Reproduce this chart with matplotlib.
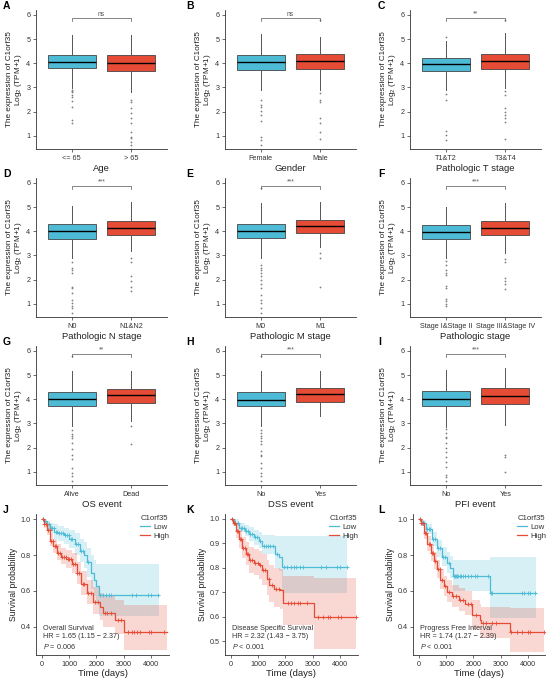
import numpy as np
import matplotlib
matplotlib.use("Agg")
import matplotlib.pyplot as plt

plt.rcParams['font.family'] = ['Liberation Sans', 'DejaVu Sans']
plt.rcParams['mathtext.fontset'] = 'custom'
plt.rcParams['mathtext.rm'] = 'Liberation Sans'
plt.rcParams['mathtext.it'] = 'Liberation Sans:italic'

BLUE = "#4DBBD5"
RED = "#E64B35"
DARK = "#333333"

# ---------------- Box panels data ----------------
panel_letters = ["A", "B", "C", "D", "E", "F", "G", "H", "I"]
xlabels = ["Age", "Gender", "Pathologic T stage", "Pathologic N stage", "Pathologic M stage",
           "Pathologic stage", "OS event", "DSS event", "PFI event"]
group_names = [["<= 65", "> 65"], ["Female", "Male"], ["T1&T2", "T3&T4"], ["N0", "N1&N2"],
               ["M0", "M1"], ["Stage I&Stage II", "Stage III&Stage IV"], ["Alive", "Dead"],
               ["No", "Yes"], ["No", "Yes"]]
signif = ["ns", "ns", "**", "***", "***", "***", "**", "***", "***"]

# (whislo, q1, med, q3, whishi)
box_low = [
    (2.96, 3.79, 4.05, 4.34, 5.17),
    (2.90, 3.72, 4.04, 4.34, 5.22),
    (2.90, 3.66, 3.96, 4.21, 4.90),
    (2.91, 3.68, 4.01, 4.30, 5.04),
    (2.88, 3.71, 4.02, 4.30, 5.15),
    (2.89, 3.67, 3.97, 4.25, 5.00),
    (2.88, 3.71, 4.01, 4.30, 5.15),
    (2.88, 3.71, 3.98, 4.30, 5.15),
    (2.85, 3.72, 4.02, 4.32, 5.20),
]
box_high = [
    (2.82, 3.68, 4.00, 4.34, 5.17),
    (2.90, 3.75, 4.07, 4.38, 5.10),
    (2.97, 3.77, 4.07, 4.39, 5.24),
    (3.16, 3.84, 4.15, 4.43, 5.22),
    (3.36, 3.94, 4.21, 4.46, 5.22),
    (3.10, 3.84, 4.14, 4.42, 5.18),
    (3.09, 3.84, 4.19, 4.42, 5.18),
    (3.29, 3.88, 4.21, 4.46, 5.18),
    (2.95, 3.82, 4.15, 4.45, 5.30),
]
fliers_low = [
    [2.90, 2.85, 2.80, 2.70, 2.60, 2.45, 2.20, 1.65, 1.52],
    [2.48, 2.27, 2.17, 2.02, 1.86, 1.62, 0.96, 0.82, 0.60],
    [5.08, 2.72, 2.49, 1.18, 1.04, 0.83],
    [2.74, 2.47, 2.40, 2.26, 1.71, 1.65, 1.44, 1.16, 1.03, 0.89, 0.82, 0.62],
    [5.77, 2.60, 2.47, 2.40, 2.26, 2.13, 1.99, 1.81, 1.65, 1.37, 1.16, 1.03, 0.82, 0.62],
    [2.78, 2.60, 2.40, 2.27, 2.18, 1.73, 1.66, 1.18, 1.10, 0.97, 0.90],
    [5.77, 2.74, 2.54, 2.47, 2.40, 2.20, 1.92, 1.71, 1.51, 1.16, 0.96, 0.82, 0.62],
    [5.77, 2.74, 2.60, 2.47, 2.40, 2.26, 2.13, 1.85, 1.71, 1.65, 1.37, 1.16, 0.96, 0.82, 0.62],
    [2.75, 2.60, 2.45, 2.40, 2.20, 2.00, 1.80, 1.60, 1.40, 1.20, 0.85, 0.80, 0.60],
]
fliers_high = [
    [2.48, 2.40, 2.13, 1.93, 1.72, 1.51, 1.17, 0.96, 0.90, 0.75, 0.60, 0.47],
    [5.77, 2.78, 2.48, 2.40, 1.72, 1.54, 1.17, 0.85],
    [5.79, 2.83, 2.70, 2.14, 2.00, 1.87, 1.73, 1.55, 0.86],
    [2.88, 2.74, 2.13, 1.92, 1.71, 1.54],
    [3.09, 2.88, 1.71],
    [2.86, 2.74, 2.07, 1.93, 1.80, 1.59],
    [2.88, 2.13],
    [],
    [1.70, 1.62, 1.00],
]

# ---------------- KM data ----------------
km_letters = ["J", "K", "L"]
km_titles = ["Overall Survival", "Disease Specific Survival", "Progress Free Interval"]
km_hr = ["HR = 1.65 (1.15 \u2212 2.37)", "HR = 2.32 (1.43 \u2212 3.75)", "HR = 1.74 (1.27 \u2212 2.39)"]
km_p = ["$\\it{P}$ = 0.006", "$\\it{P}$ < 0.001", "$\\it{P}$ < 0.001"]
km_ylim = [(0.244, 1.028), (0.443, 1.02), (0.244, 1.028)]
km_yticks = [[0.4, 0.6, 0.8, 1.0], [0.5, 0.6, 0.7, 0.8, 0.9, 1.0], [0.4, 0.6, 0.8, 1.0]]

# J
j_low_t = [0, 60, 180, 300, 450, 600, 800, 1000, 1200, 1400, 1550, 1650, 1800, 1900, 2000, 2100, 4300]
j_low_s = [1.0, 0.99, 0.97, 0.95, 0.93, 0.92, 0.91, 0.89, 0.86, 0.82, 0.80, 0.76, 0.70, 0.66, 0.63, 0.58, 0.58]
j_low_lo = [1.0, 0.97, 0.94, 0.92, 0.89, 0.88, 0.86, 0.84, 0.80, 0.76, 0.73, 0.68, 0.61, 0.57, 0.53, 0.46, 0.46]
j_low_hi = [1.0, 1.0, 0.99, 0.98, 0.97, 0.96, 0.95, 0.94, 0.92, 0.89, 0.87, 0.84, 0.80, 0.77, 0.75, 0.75, 0.75]
j_high_t = [0, 60, 180, 300, 420, 545, 700, 900, 1090, 1270, 1450, 1640, 1880, 2120, 2240, 2670, 3030, 4600]
j_high_s = [1.0, 0.97, 0.94, 0.88, 0.85, 0.81, 0.79, 0.78, 0.75, 0.70, 0.64, 0.59, 0.54, 0.51, 0.48, 0.44, 0.37, 0.37]
j_high_lo = [1.0, 0.95, 0.91, 0.85, 0.81, 0.77, 0.75, 0.73, 0.70, 0.64, 0.58, 0.53, 0.47, 0.44, 0.40, 0.36, 0.27, 0.27]
j_high_hi = [1.0, 0.99, 0.97, 0.92, 0.89, 0.86, 0.84, 0.83, 0.81, 0.76, 0.71, 0.66, 0.62, 0.59, 0.57, 0.55, 0.52, 0.52]
j_low_cens = [50, 120, 200, 260, 330, 380, 430, 500, 560, 640, 700, 760, 850, 920, 980, 1050, 1120, 1250, 1330, 1450, 1500, 1700, 2150, 2250, 2350, 2450, 2550, 3300, 3450, 3900, 4000, 4250]
j_high_cens = [40, 90, 150, 230, 280, 340, 400, 470, 520, 600, 650, 750, 800, 880, 950, 1000, 1050, 1150, 1200, 1300, 1350, 1500, 1550, 1700, 1800, 1950, 2050, 2300, 2400, 2550, 2800, 2900, 3150, 3300, 3400, 3500, 3600, 3950, 4000, 4500]

# K
k_low_t = [0, 100, 300, 500, 660, 850, 1020, 1140, 1630, 1750, 1870, 4280]
k_low_s = [1.0, 0.985, 0.964, 0.95, 0.937, 0.925, 0.91, 0.89, 0.856, 0.845, 0.805, 0.805]
k_low_lo = [1.0, 0.97, 0.945, 0.93, 0.91, 0.895, 0.88, 0.855, 0.80, 0.785, 0.695, 0.695]
k_low_hi = [1.0, 1.0, 0.985, 0.975, 0.965, 0.955, 0.945, 0.935, 0.93, 0.93, 0.93, 0.93]
k_high_t = [0, 60, 180, 300, 420, 540, 660, 840, 1020, 1140, 1325, 1410, 1570, 1800, 1930, 3040, 4580]
k_high_s = [1.0, 0.985, 0.95, 0.917, 0.88, 0.856, 0.83, 0.82, 0.81, 0.79, 0.755, 0.73, 0.715, 0.71, 0.655, 0.597, 0.597]
k_high_lo = [1.0, 0.97, 0.92, 0.88, 0.84, 0.81, 0.78, 0.77, 0.755, 0.73, 0.69, 0.66, 0.64, 0.63, 0.565, 0.466, 0.466]
k_high_hi = [1.0, 1.0, 0.98, 0.955, 0.925, 0.905, 0.885, 0.875, 0.87, 0.855, 0.83, 0.81, 0.80, 0.795, 0.765, 0.76, 0.76]
k_low_cens = [50, 150, 250, 350, 420, 480, 560, 620, 700, 780, 880, 950, 1060, 1200, 1280, 1350, 1450, 1550, 1700, 1950, 2050, 2200, 2300, 2400, 2550, 2650, 3300, 3500, 3900, 4000, 4250]
k_high_cens = [40, 100, 140, 220, 260, 340, 380, 460, 500, 580, 620, 700, 760, 900, 980, 1080, 1180, 1250, 1380, 1500, 1650, 1750, 2100, 2200, 2300, 2450, 2550, 2800, 3200, 3400, 3550, 3650, 3950, 4050, 4580]

# L
l_low_t = [0, 60, 240, 485, 667, 850, 1030, 1150, 1236, 2545, 2600, 4300]
l_low_s = [1.0, 0.98, 0.944, 0.89, 0.84, 0.79, 0.756, 0.73, 0.685, 0.685, 0.59, 0.59]
l_low_lo = [1.0, 0.96, 0.915, 0.85, 0.79, 0.74, 0.70, 0.67, 0.60, 0.60, 0.447, 0.447]
l_low_hi = [1.0, 0.995, 0.975, 0.93, 0.885, 0.845, 0.815, 0.795, 0.775, 0.775, 0.79, 0.79]
l_high_t = [0, 60, 180, 300, 425, 545, 667, 790, 910, 1030, 1210, 1455, 1700, 1960, 2240, 2270, 3330, 4600]
l_high_s = [1.0, 0.98, 0.925, 0.86, 0.81, 0.766, 0.72, 0.66, 0.625, 0.597, 0.57, 0.55, 0.53, 0.466, 0.44, 0.42, 0.37, 0.37]
l_high_lo = [1.0, 0.96, 0.89, 0.82, 0.765, 0.72, 0.67, 0.61, 0.57, 0.54, 0.51, 0.49, 0.465, 0.39, 0.36, 0.34, 0.26, 0.26]
l_high_hi = [1.0, 0.995, 0.96, 0.905, 0.86, 0.815, 0.775, 0.72, 0.685, 0.66, 0.635, 0.615, 0.60, 0.55, 0.53, 0.51, 0.505, 0.505]
l_low_cens = [40, 100, 150, 200, 300, 350, 420, 520, 600, 700, 780, 900, 960, 1100, 1280, 1320, 1360, 1400, 1450, 1500, 1550, 1600, 1700, 1800, 1900, 2050, 2150, 2550, 2650, 2700, 3800, 3850, 4000, 4100, 4250]
l_high_cens = [30, 80, 130, 220, 260, 350, 400, 470, 520, 600, 700, 760, 850, 950, 1100, 1250, 1350, 1500, 1600, 1800, 1900, 2100, 2350, 2450, 2700, 2850, 3400, 3600, 3800, 4000, 4100, 4600]

km_data = [
    [(j_low_t, j_low_s, j_low_lo, j_low_hi, j_low_cens), (j_high_t, j_high_s, j_high_lo, j_high_hi, j_high_cens)],
    [(k_low_t, k_low_s, k_low_lo, k_low_hi, k_low_cens), (k_high_t, k_high_s, k_high_lo, k_high_hi, k_high_cens)],
    [(l_low_t, l_low_s, l_low_lo, l_low_hi, l_low_cens), (l_high_t, l_high_s, l_high_lo, l_high_hi, l_high_cens)],
]

# ---------------- Figure ----------------
W, H = 546, 681
fig = plt.figure(figsize=(W / 100, H / 100), dpi=100)


def rect(left, top, width, height):
    return [left / W, 1 - (top + height) / H, width / W, height / H]


def style_axes(ax):
    for s in ['top', 'right']:
        ax.spines[s].set_visible(False)
    for s in ['left', 'bottom']:
        ax.spines[s].set_linewidth(0.6)
        ax.spines[s].set_color(DARK)
    ax.tick_params(axis='both', length=2.5, width=0.5, color=DARK, labelsize=5.2,
                   labelcolor=DARK, pad=1.5)


box_lefts = [36, 225, 410]
box_tops = [10, 178, 346]
letter_x = [3, 186, 378]

for i in range(9):
    r, c = divmod(i, 3)
    ax = fig.add_axes(rect(box_lefts[c], box_tops[r], 131, 139))
    stats = []
    for bx, fl, nm in [(box_low[i], fliers_low[i], group_names[i][0]),
                       (box_high[i], fliers_high[i], group_names[i][1])]:
        stats.append(dict(whislo=bx[0], q1=bx[1], med=bx[2], q3=bx[3], whishi=bx[4],
                          fliers=fl, label=nm))
    res = ax.bxp(stats, positions=[1, 2], widths=0.8, patch_artist=True, showcaps=False,
                 boxprops=dict(linewidth=0.6, edgecolor='#444444'),
                 medianprops=dict(color='black', linewidth=1.0),
                 whiskerprops=dict(color='#555555', linewidth=0.7),
                 flierprops=dict(marker='o', markersize=1.3, markerfacecolor='#808080',
                                 markeredgecolor='none', linestyle='none'))
    for patch, col in zip(res['boxes'], [BLUE, RED]):
        patch.set_facecolor(col)
    ax.set_xlim(0.4, 2.6)
    ax.set_ylim(0.45, 6.2)
    ax.set_yticks([1, 2, 3, 4, 5, 6])
    style_axes(ax)
    ax.set_xlabel(xlabels[i], fontsize=6.8, labelpad=1.5, color='#222222')
    ax.set_ylabel("The expression of C1orf35\nLog$_2$ (TPM+1)", fontsize=5.9, labelpad=2,
                  linespacing=1.0, color='#222222')
    # significance bracket
    ax.plot([1, 1, 2, 2], [5.75, 5.85, 5.85, 5.75], color='#555555', lw=0.5, clip_on=False)
    ax.text(1.5, 5.88, signif[i], ha='center', va='bottom', fontsize=4.8, color='#555555')
    fig.text(letter_x[c] / W, 1 - (box_tops[r] - 4) / H, panel_letters[i], fontsize=7.5,
             fontweight='bold', va='center', ha='left')

km_lefts = [36, 225, 413]
for k in range(3):
    ax = fig.add_axes(rect(km_lefts[k], 514, 133, 141))
    for (t, s, lo, hi, cens), col, nm in zip(km_data[k], [BLUE, RED], ["Low", "High"]):
        t = np.asarray(t, float)
        s = np.asarray(s, float)
        ax.fill_between(t, lo, hi, step='post', color=col, alpha=0.22, linewidth=0)
        ax.step(t, s, where='post', color=col, lw=0.9, label=nm)
        ct = np.asarray(cens, float)
        idx = np.searchsorted(t, ct, side='right') - 1
        ax.plot(ct, s[idx], linestyle='none', marker='+', markersize=3.4,
                markeredgewidth=0.6, color=col)
    ax.set_xlim(-220, 4670)
    ax.set_ylim(*km_ylim[k])
    ax.set_yticks(km_yticks[k])
    ax.set_xticks([0, 1000, 2000, 3000, 4000])
    style_axes(ax)
    ax.set_xlabel("Time (days)", fontsize=6.8, labelpad=1, color='#222222')
    ax.set_ylabel("Survival probability", fontsize=6.2, labelpad=2, color='#222222')
    leg = ax.legend(title="C1orf35", loc='upper right', bbox_to_anchor=(1.04, 1.03),
                    frameon=False, fontsize=5.6, title_fontsize=5.6, handlelength=1.2,
                    handletextpad=0.4, labelspacing=0.2, borderpad=0.2)
    leg._legend_box.align = "left"
    for txt in leg.get_texts():
        txt.set_color(DARK)
    leg.get_title().set_color(DARK)
    ax.text(0.05, 0.03, km_titles[k] + "\n" + km_hr[k] + "\n" + km_p[k],
            transform=ax.transAxes, fontsize=5.2, color=DARK, va='bottom', ha='left',
            linespacing=1.25)
    fig.text(([3, 186, 378][k]) / W, 1 - 510 / H, km_letters[k], fontsize=7.5,
             fontweight='bold', va='center', ha='left')

fig.savefig("out.png", dpi=100)
